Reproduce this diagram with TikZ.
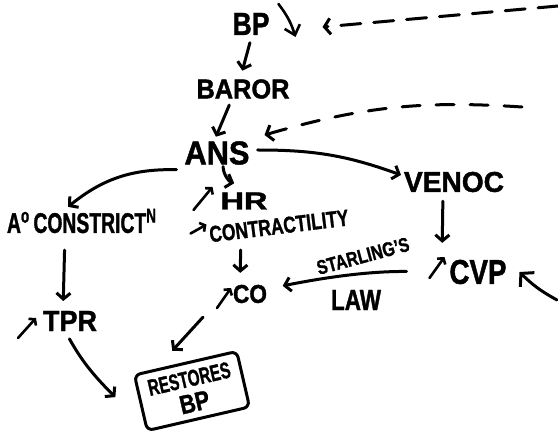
\documentclass[tikz,border=0pt]{standalone}
\usepackage{fontspec}
\setmainfont{Liberation Sans}[BoldFont=Liberation Sans Bold, BoldFeatures={FakeBold=1.5}]
\usetikzlibrary{arrows.meta}
% squeeze a bold label into a given width and height
\newcommand{\fitbox}[3]{\resizebox{#1}{#2}{\bfseries #3}}

\begin{document}
\begin{tikzpicture}[x=1pt,y=-1pt,
  txt/.style={inner sep=0pt, outer sep=0pt},
  ink/.style={line width=3pt, line cap=round, line join=round},
  arr/.style={ink, -{Straight Barb[length=6pt,width=14pt]}},
  markarr/.style={line width=2.6pt, line cap=round, line join=round,
    -{Straight Barb[length=4pt,width=10pt]}},
  dasharr/.style={ink, dash pattern=on 20pt off 13pt,
    -{Straight Barb[length=6pt,width=16pt]}},
]
\useasboundingbox (0,0) rectangle (558,441);

% labels
\node[txt] (bp) at (251,24) {\fitbox{37pt}{22pt}{BP}};
\node[txt] (baror) at (243,89) {\fitbox{93pt}{19pt}{BAROR}};
\node[txt] (ans) at (217,153) {\fitbox{65pt}{23pt}{ANS}};
\node[txt] (hr) at (244,201) {\fitbox{47pt}{17pt}{HR}};
\node[txt, rotate=7] (contr) at (279,226) {\fitbox{140pt}{16pt}{CONTRACTILITY}};
\node[txt] (acon) at (82,221) {\fitbox{150pt}{24pt}{A\textsuperscript{o}\,CONSTRICT\textsuperscript{N}}};
\node[txt] (tpr) at (70,321) {\fitbox{54pt}{20pt}{TPR}};
\node[txt] (co) at (250,294) {\fitbox{34pt}{18pt}{CO}};
\node[txt] (veno) at (454,182) {\fitbox{100pt}{20pt}{VENOC}};
\node[txt] (cvp) at (478,272) {\fitbox{57pt}{24pt}{CVP}};
\node[txt, rotate=15] (starling) at (363,256) {\fitbox{95pt}{14pt}{STARLING'S}};
\node[txt] (law) at (356,300) {\fitbox{50pt}{20pt}{LAW}};
\node[draw, ink, rounded corners=6pt, rotate=13, minimum width=105pt,
  minimum height=57pt, inner sep=0pt] (rbp) at (192,391)
  {\shortstack{\fitbox{84pt}{16pt}{RESTORES}\\[4pt]\fitbox{30pt}{18pt}{BP}}};

% feedback entry points at the edge of the sheet
\coordinate (topfeed) at (558,6);
\coordinate (midfeed) at (522,107);
\coordinate (cvpfeed) at (557,300);

% rise / fall marks
\draw[line width=2.6pt, line cap=round, line join=round,
  -{Straight Barb[length=9pt,width=16pt]}]
  ([shift={(9,-20)}]bp.east) to[bend left=10] ++(17,33);
\draw[markarr] ([shift={(-27,9)}]hr.west) -- ++(19,-23);
\draw[markarr] ([shift={(-19,-1)}]contr.west) -- ++(16,-9);
\draw[markarr] ([shift={(-25,17)}]tpr.west) -- ++(18,-20);
\draw[markarr] ([shift={(-16,14)}]co.west) -- ++(14,-20);
\draw[markarr] ([shift={(-20,6)}]cvp.west) -- ++(15,-21);

% connectors
\draw[arr, shorten <=8pt, shorten >=9pt] ([xshift=1pt]bp.south) -- ([xshift=-3pt]baror.north);
\draw[arr, shorten <=7pt, shorten >=5pt] ([xshift=-11pt]baror.south) -- ([xshift=-3pt]ans.north);
\draw[arr] ([shift={(-8,5)}]ans.south west) to[bend right=20] ([shift={(-14,-2)}]acon.north);
\draw[arr, shorten <=2pt, shorten >=4pt] ([xshift=6pt]ans.south) to[bend right=35] ([shift={(-6,-8)}]hr.north);
\draw[arr] ([shift={(8,-3)}]ans.east) to[bend left=10] ([shift={(-3,-7)}]veno.west);
\draw[arr, shorten <=9pt, shorten >=17pt] ([xshift=-11pt]veno.south) -- ([xshift=-36pt]cvp.north);
\draw[arr, shorten <=43pt, shorten >=16pt] (cvp.west) to[bend right=6] ([yshift=5pt]co.east);
\draw[arr, shorten <=16pt, shorten >=12pt] ([xshift=-39pt]contr.south) -- ([xshift=-10pt]co.north);
\draw[arr] ([shift={(-30,14)}]co.south west) -- ([shift={(-13,-11)}]rbp.north);
\draw[arr, shorten <=17pt, shorten >=10pt] ([xshift=-17pt]acon.south) -- ([xshift=-7pt]tpr.north);
\draw[arr, shorten <=9pt] ([xshift=-5pt]tpr.south) to[bend right=8] ([shift={(-24,-6)}]rbp.west);

% incoming influences
\draw[dasharr] (topfeed) -- ([shift={(53,3)}]bp.east);
\draw[dasharr, dash pattern=on 18pt off 16pt] (midfeed) to[bend right=10] ([shift={(15,-18)}]ans.east);
\draw[ink, -{Straight Barb[length=9pt,width=20pt]}] (cvpfeed) to[bend left=8] ([shift={(13,0)}]cvp.east);
\end{tikzpicture}
\end{document}
